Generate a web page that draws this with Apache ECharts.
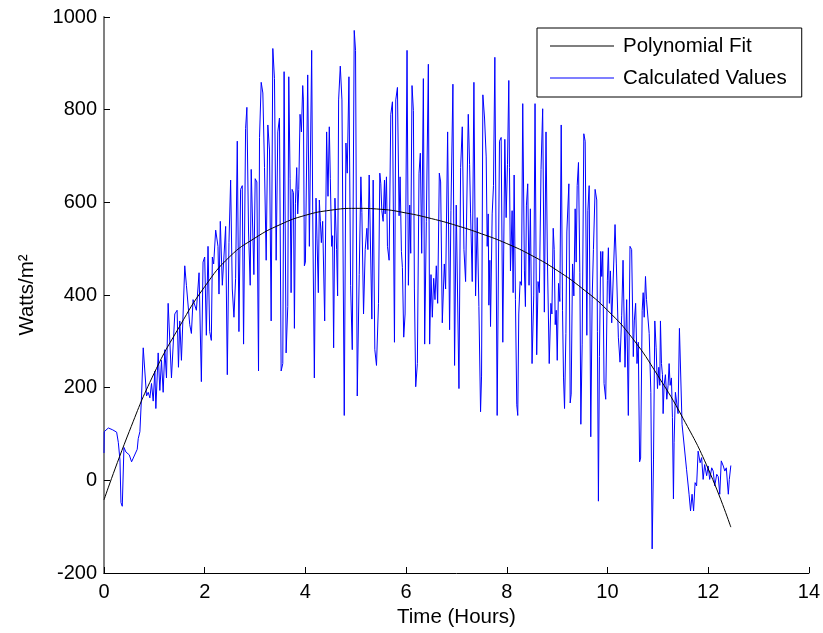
<!DOCTYPE html>
<html>
<head>
<meta charset="utf-8">
<script src="https://cdn.jsdelivr.net/npm/echarts@6/dist/echarts.min.js"></script>
<style>
html,body{margin:0;padding:0;background:#fff;}
#chart{width:823px;height:633px;}
</style>
</head>
<body>
<div id="chart"></div>
<script>
// ---- data ----
var xTicks = [0, 2, 4, 6, 8, 10, 12, 14];
var yTicks = [-200, 0, 200, 400, 600, 800, 1000];
var seriesNames = ['Polynomial Fit', 'Calculated Values'];

var fitHours = [0, 0.5, 1, 1.5, 2, 2.5, 3, 3.5, 4, 4.5, 5, 5.5, 6, 6.5, 7, 7.5, 8, 8.5, 9, 9.5, 10, 10.5, 11, 11.5, 12, 12.45];
var fitWatts = [-42, 105, 232, 332, 418, 483, 523, 552, 572, 583, 587, 585, 577, 565, 550, 532, 511, 485, 453, 414, 367, 306, 226, 134, 25, -101];

var calcHours = [
 0.000,0.005,0.086,0.119,0.172,0.251,0.284,0.317,0.337,0.363,0.396,0.436,0.502,0.548,0.581,0.614,0.660,0.680,0.713,0.746,0.779,0.812,0.845,0.878,0.911,0.944,0.977,1.010,1.030,1.076,1.109,1.142,1.175,1.208,1.241,1.274,1.307,1.340,1.406,1.452,1.479,1.505,1.538,1.571,1.604,1.637,1.670,1.703,
 1.736,1.769,1.835,1.888,1.934,1.967,2.000,2.033,2.066,2.099,2.132,2.152,2.178,2.218,2.264,2.284,2.310,2.350,2.383,2.416,2.449,2.482,2.515,2.548,2.581,2.614,2.647,2.680,2.713,2.746,2.772,2.812,2.838,2.871,2.904,2.924,2.957,2.977,3.003,3.036,3.069,3.089,3.122,3.155,3.188,3.221,3.254,3.287,3.320,3.353,3.386,3.419,3.452,3.485,
 3.518,3.551,3.577,3.617,3.650,3.670,3.696,3.716,3.736,3.762,3.782,3.802,3.828,3.848,3.868,3.894,3.921,3.947,3.960,3.980,4.000,4.046,4.079,4.125,4.145,4.178,4.211,4.231,4.257,4.277,4.297,4.317,4.343,4.383,4.422,4.449,4.475,4.495,4.521,4.541,4.561,4.587,4.620,4.640,4.660,4.693,4.726,4.772,4.805,4.831,4.865,4.898,4.931,4.970,4.996,5.030,5.069,5.102,5.122,5.155,5.188,5.221,5.241,
 5.267,5.320,5.346,5.379,5.412,5.452,5.478,5.498,5.518,5.544,5.571,5.584,5.610,5.630,5.663,5.696,5.729,5.769,5.795,5.828,5.861,5.881,5.907,5.927,5.953,5.980,6.019,6.046,6.072,6.092,6.118,6.145,6.165,6.191,6.224,6.257,6.283,6.310,6.343,6.369,6.402,6.442,6.468,6.495,6.521,6.548,6.574,6.600,6.627,6.660,6.686,6.719,6.759,6.785,6.825,6.864,6.891,6.930,6.963,6.996,
 7.050,7.083,7.116,7.149,7.182,7.215,7.235,7.261,7.281,7.314,7.347,7.380,7.413,7.446,7.479,7.499,7.525,7.558,7.591,7.611,7.631,7.644,7.664,7.677,7.710,7.736,7.763,7.789,7.809,7.829,7.855,7.888,7.921,7.961,7.987,8.014,8.040,8.053,8.073,8.106,8.126,8.146,8.172,8.198,8.218,8.238,8.264,8.291,8.317,8.350,8.370,8.390,8.416,8.442,8.469,8.502,8.535,8.561,8.594,8.621,8.647,8.680,8.713,8.746,8.779,8.806,
 8.843,8.876,8.896,8.922,8.942,8.962,8.982,9.002,9.028,9.054,9.081,9.107,9.127,9.147,9.174,9.193,9.213,9.233,9.259,9.279,9.306,9.332,9.358,9.378,9.398,9.424,9.451,9.471,9.497,9.530,9.557,9.590,9.610,9.636,9.668,9.695,9.721,9.754,9.787,9.800,9.820,9.840,9.866,9.886,9.906,9.932,9.965,9.998,10.018,10.038,10.058,10.084,10.111,10.150,10.176,10.216,10.249,10.282,10.309,10.348,10.381,10.414,10.447,10.480,10.513,10.533,10.559,10.586,10.612,10.638,10.658,
 10.689,10.709,10.729,10.755,10.775,10.795,10.828,10.861,10.887,10.914,10.940,10.966,10.993,11.019,11.039,11.052,11.072,11.092,11.105,11.125,11.151,11.178,11.204,11.224,11.244,11.270,11.290,11.310,11.323,11.349,11.376,11.402,11.429,11.455,11.481,
 11.52,11.57,11.62,11.65,11.68,11.71,11.74,11.77,11.80,11.84,11.87,11.90,11.93,11.97,12.00,12.03,12.07,12.10,12.13,12.17,12.20,12.23,12.26,12.30,12.33,12.36,12.40,12.42,12.45
];
var calcWatts = [
 59,105,113,117,109,104,82,44,-48,-56,71,61,55,40,48,44,67,90,105,182,286,290,182,190,178,209,171,236,155,275,194,259,190,282,221,382,378,221,359,367,244,344,259,359,463,421,417,336,
 317,390,367,448,213,471,482,313,505,321,302,482,467,540,505,402,559,421,421,548,228,513,648,413,352,436,732,321,628,636,294,759,805,536,421,671,667,444,651,644,236,740,859,836,675,475,767,713,344,932,867,475,752,782,
 236,252,882,275,375,871,652,405,628,621,328,598,675,575,628,790,752,852,821,463,471,875,505,928,582,221,609,521,405,605,559,513,559,344,752,613,763,652,505,528,286,609,498,398,821,894,821,140,728,663,871,421,282,971,928,182,444,655,578,359,498,544,498,
 659,348,648,282,248,382,663,640,582,559,648,575,655,505,475,790,817,298,821,848,571,655,494,459,309,359,928,421,594,490,852,798,413,202,252,663,706,490,867,294,559,898,294,444,352,436,390,463,382,663,644,340,467,413,752,325,582,855,248,594,
 198,675,763,498,429,659,790,682,575,429,859,398,567,375,148,225,832,782,698,505,575,378,475,332,575,636,913,482,140,140,732,740,298,736,567,682,863,675,452,582,405,659,390,163,140,359,429,421,813,452,375,594,640,421,586,252,398,813,271,429,405,671,802,363,752,482,
 252,382,359,544,498,336,367,259,425,386,767,367,221,155,317,536,540,640,167,186,467,398,586,471,636,686,448,121,294,748,732,313,582,636,94,390,498,628,605,321,-45,267,494,440,494,209,175,432,502,382,452,340,340,552,467,309,255,355,475,244,390,140,505,498,267,344,382,252,298,40,48,
 367,405,352,440,390,386,317,190,-148,44,344,286,198,244,205,344,252,228,144,205,228,175,205,252,205,221,136,-40,82,190,190,144,328,332,121,
 124,24,-30,-66,-30,-66,-5,-12,63,38,49,2,34,10,31,2,27,20,-12,13,8,-30,42,31,20,27,-30,2,32
];

function zip(a, b) { var out = []; for (var i = 0; i < a.length; i++) out.push([a[i], b[i]]); return out; }
function plain(v) { return String(v); }

var FONT = '"Liberation Sans", Arial, sans-serif';
var chart = echarts.init(document.getElementById('chart'), null, {renderer: 'canvas'});
chart.setOption({
  animation: false,
  backgroundColor: '#ffffff',
  textStyle: {fontFamily: FONT, color: '#000'},
  grid: {left: 104, right: 12, top: 17, bottom: 59, containLabel: false},
  legend: {
    data: [
      {name: seriesNames[0], icon: 'rect', itemStyle: {color: '#000000'}},
      {name: seriesNames[1], icon: 'rect', itemStyle: {color: '#0000ff'}}
    ],
    orient: 'vertical',
    left: 537, top: 28,
    itemWidth: 64, itemHeight: 1,
    itemGap: 10,
    padding: [7, 15, 8, 13],
    borderColor: '#000', borderWidth: 1,
    backgroundColor: '#fff',
    textStyle: {fontFamily: FONT, fontSize: 20.5, color: '#000', lineHeight: 22, padding: [0, 0, 0, 4]}
  },
  xAxis: {
    type: 'value', min: xTicks[0], max: xTicks[xTicks.length - 1], interval: 2,
    name: 'Time (Hours)', nameLocation: 'middle', nameGap: 34,
    nameTextStyle: {fontFamily: FONT, fontSize: 20.5, color: '#000'},
    axisLine: {onZero: false, lineStyle: {color: '#000', width: 1}},
    axisTick: {inside: true, length: 6, lineStyle: {color: '#000'}},
    axisLabel: {fontFamily: FONT, fontSize: 20, color: '#000', margin: 9, formatter: plain},
    splitLine: {show: false}
  },
  yAxis: {
    type: 'value', min: yTicks[0], max: yTicks[yTicks.length - 1], interval: 200,
    name: 'Watts/m²', nameLocation: 'middle', nameGap: 66, nameRotate: 90,
    nameTextStyle: {fontFamily: FONT, fontSize: 20.5, color: '#000'},
    axisLine: {onZero: false, lineStyle: {color: '#808080', width: 2}},
    axisTick: {inside: true, length: 6, lineStyle: {color: '#000'}},
    axisLabel: {fontFamily: FONT, fontSize: 20, color: '#000', margin: 7, formatter: plain},
    splitLine: {show: false}
  },
  series: [
    {
      name: seriesNames[1], type: 'line', data: zip(calcHours, calcWatts),
      showSymbol: false, symbol: 'none', z: 2,
      lineStyle: {color: '#0000ff', width: 1}, itemStyle: {color: '#0000ff'}
    },
    {
      name: seriesNames[0], type: 'line', data: zip(fitHours, fitWatts),
      showSymbol: false, symbol: 'none', smooth: true, z: 3,
      lineStyle: {color: '#000000', width: 1}, itemStyle: {color: '#000000'}
    }
  ]
});
</script>
</body>
</html>
